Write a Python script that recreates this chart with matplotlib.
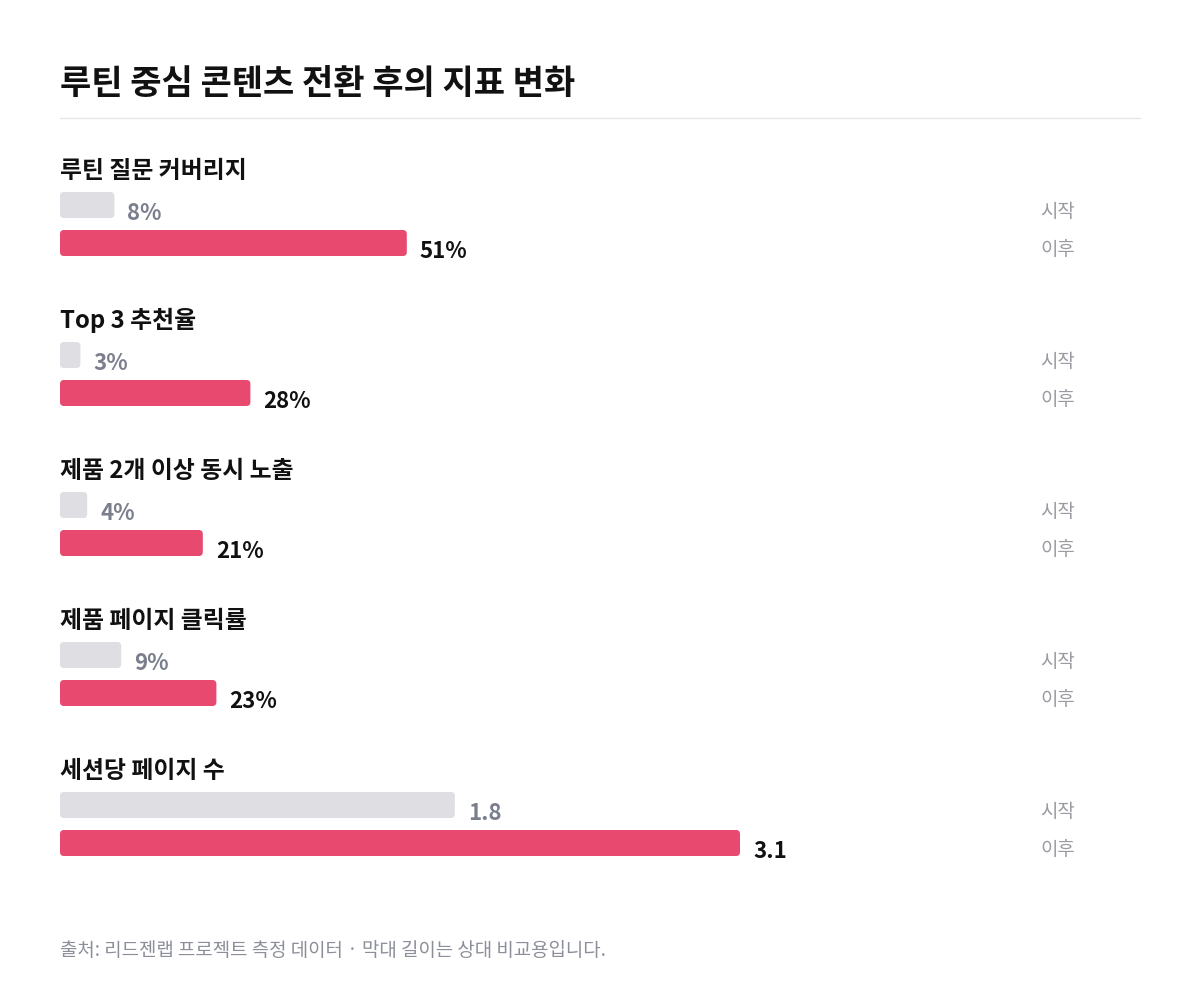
import matplotlib
matplotlib.use("Agg")
import matplotlib.pyplot as plt
import matplotlib.transforms as mtransforms
from matplotlib.patches import FancyBboxPatch

plt.rcParams['font.family'] = ['Noto Sans CJK KR', 'DejaVu Sans']

# --- data ---
title = "루틴 중심 콘텐츠 전환 후의 지표 변화"
metrics = ["루틴 질문 커버리지", "Top 3 추천율", "제품 2개 이상 동시 노출",
           "제품 페이지 클릭률", "세션당 페이지 수"]
before = [8, 3, 4, 9, 1.8]
after = [51, 28, 21, 23, 3.1]
units = ["%", "%", "%", "%", ""]
scale_max = [100, 100, 100, 100, 3.1]
row_labels = ["시작", "이후"]
footer = "출처: 리드젠랩 프로젝트 측정 데이터 · 막대 길이는 상대 비교용입니다."

W, H = 1200, 990
GRAY = "#DEDEE3"
PINK = "#E8496F"

fig = plt.figure(figsize=(W / 100, H / 100), dpi=100)
fig.patch.set_facecolor("white")


def fx(x):
    return x / W


def fy(y):
    return 1 - y / H


# title + separator
fig.text(fx(60), fy(94), title, fontsize=24.5, fontweight="bold", color="#111111",
         va="baseline", ha="left")
fig.add_artist(plt.Line2D([fx(60), fx(1140)], [fy(118.5), fy(118.5)],
                          color="#E6E6E6", lw=1))

bar_left, bar_w = 60, 680
row_px = 38      # distance between bar centres
bar_h = 26 / row_px

for i, name in enumerate(metrics):
    top = 150 * i
    fig.text(fx(60), fy(178 + top), name, fontsize=17.2, fontweight="bold",
             color="#111111", va="baseline", ha="left")

    # axes covering the two bars: y from 186 to 262 px
    ax = fig.add_axes([fx(bar_left), fy(262 + top), bar_w / W, 76 / H])
    ax.set_xlim(0, scale_max[i])
    ax.set_ylim(1.5, -0.5)
    ax.axis("off")

    vals = [before[i], after[i]]
    bars = ax.barh([0, 1], vals, height=bar_h, color=[GRAY, PINK])

    px_per_x = bar_w / scale_max[i]
    rad = 4 / px_per_x
    for b in bars:
        b.set_visible(False)
        rp = FancyBboxPatch((b.get_x(), b.get_y()), b.get_width(), b.get_height(),
                            boxstyle=f"round,pad=0,rounding_size={rad}",
                            mutation_aspect=px_per_x / row_px,
                            facecolor=b.get_facecolor(), edgecolor="none")
        ax.add_patch(rp)

    txt_colors = ["#7B7F8D", "#111111"]
    tr = mtransforms.blended_transform_factory(fig.transFigure, ax.transData)
    for r, v in enumerate(vals):
        lbl = f"{v:g}{units[i]}" if units[i] else f"{v:.1f}"
        ax.annotate(lbl, xy=(v, r + bar_h / 2), xytext=(9.4, -1.4),
                    textcoords="offset points", fontsize=16, fontweight="bold",
                    color=txt_colors[r], va="baseline", ha="left",
                    annotation_clip=False)
        ax.text(fx(1040), r + bar_h / 2 - 1 / row_px, row_labels[r], transform=tr,
                fontsize=13.6, color="#9A9AA2", va="baseline", ha="left")

fig.text(fx(60), fy(956), footer, fontsize=13.6, color="#8C8E99",
         va="baseline", ha="left")

fig.savefig("out.png", dpi=100, facecolor="white")
